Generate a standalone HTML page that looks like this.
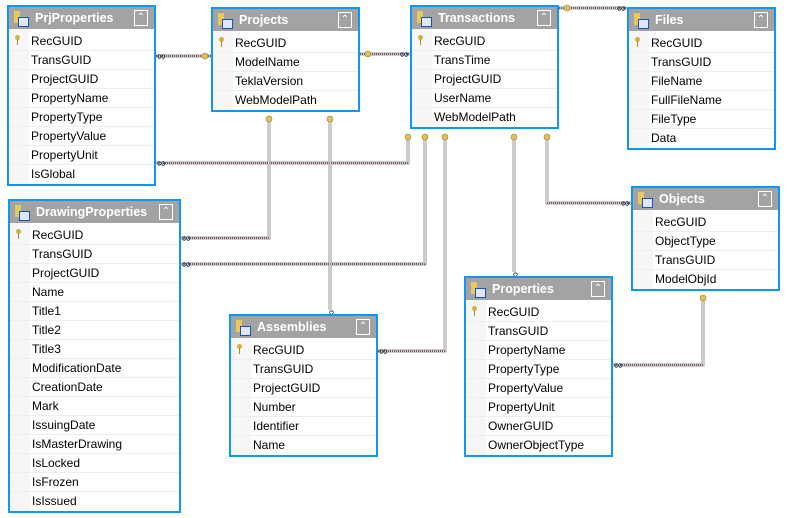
<!DOCTYPE html>
<html><head><meta charset="utf-8"><style>
body{margin:0;width:787px;height:518px;background:#fff;position:relative;overflow:hidden;font-family:"Liberation Sans",sans-serif;}
.t{position:absolute;border:2px solid #0f98f0;background:#fff;width:145px;box-sizing:content-box}
.h{height:22px;background:#a3a3a3;color:#fff;font-weight:bold;font-size:12.5px;line-height:22px;padding-left:26px;position:relative}
.h:before{content:"";position:absolute;left:5px;top:4px;width:6px;height:12px;background:#e8c860}
.h:after{content:"";position:absolute;left:9px;top:10px;width:9px;height:8px;border:1px solid #2050b0;background:#dde8ff}
.c{position:absolute;right:6px;top:3px;width:12px;height:14px;border:1px solid #fff;color:#fff;font-size:10px;line-height:14px;text-align:center;font-weight:normal}
.b{padding-top:3px;background:linear-gradient(to right,#f6f6f6 20px,#fff 20px)}
.r{height:19px;line-height:19px;font-size:12px;color:#000;padding-left:22px;border-bottom:1px solid #eee;box-sizing:border-box;margin-left:0;position:relative}
.r:last-child{border-bottom:none}
.k:before{content:"";position:absolute;left:6px;top:3px;width:5px;height:5px;border-radius:50%;background:#d8b040}
.k:after{content:"";position:absolute;left:8px;top:7px;width:1px;height:6px;background:#b08820}
svg{position:absolute;left:0;top:0}
</style></head><body>
<svg width="787" height="518">
<g fill="none">
<g stroke="#999" stroke-width="3">
<path d="M156 56H211M360 54H410M559 8H627M269 118V238H181M330 118V310M408 137V163H156M425 137V264H181M445 137V351H378M514 137V272M547 137V203H631M703 298V365H613"/>
</g>
<g stroke="#fff" stroke-width="1">
<path d="M156 56H211M360 54H410M559 8H627M269 118V238H181M330 118V310M408 137V163H156M425 137V264H181M445 137V351H378M514 137V272M547 137V203H631M703 298V365H613"/>
</g>
<g stroke="#602030" stroke-width="1" stroke-dasharray="1 1">
<path d="M156 56H211M360 54H410M559 8H627M269 238H181M408 163H156M425 264H181M445 351H378M547 203H631M703 365H613"/>
</g>
</g>
<g fill="#e0c060" stroke="#a08020" stroke-width="0.6">
<circle cx="205" cy="56" r="3"/><circle cx="368" cy="54" r="3"/><circle cx="567" cy="8" r="3"/>
<circle cx="269" cy="119" r="3"/><circle cx="330" cy="119" r="3"/>
<circle cx="408" cy="137" r="3"/><circle cx="425" cy="137" r="3"/><circle cx="445" cy="137" r="3"/><circle cx="514" cy="137" r="3"/><circle cx="547" cy="137" r="3"/>
<circle cx="703" cy="298" r="3"/>
</g>
<g font-family="Liberation Sans,sans-serif" font-size="12" fill="#203050">
<text x="157" y="60">∞</text><text x="400" y="58">∞</text><text x="617" y="12">∞</text>
<text x="182" y="242">∞</text><text x="157" y="167">∞</text><text x="182" y="268">∞</text><text x="379" y="355">∞</text>
<text x="621" y="207">∞</text><text x="614" y="369">∞</text>
<text x="334" y="308" transform="rotate(90 330 306)">∞</text>
<text x="518" y="270" transform="rotate(90 514 268)">∞</text>
</g>
</svg>

<div class="t" style="left:7px;top:5px"><div class="h">PrjProperties<span class="c">⌃</span></div><div class="b">
<div class="r k">RecGUID</div><div class="r">TransGUID</div><div class="r">ProjectGUID</div><div class="r">PropertyName</div><div class="r">PropertyType</div><div class="r">PropertyValue</div><div class="r">PropertyUnit</div><div class="r">IsGlobal</div></div></div>

<div class="t" style="left:211px;top:7px"><div class="h">Projects<span class="c">⌃</span></div><div class="b">
<div class="r k">RecGUID</div><div class="r">ModelName</div><div class="r">TeklaVersion</div><div class="r">WebModelPath</div></div></div>

<div class="t" style="left:410px;top:5px"><div class="h">Transactions<span class="c">⌃</span></div><div class="b">
<div class="r k">RecGUID</div><div class="r">TransTime</div><div class="r">ProjectGUID</div><div class="r">UserName</div><div class="r">WebModelPath</div></div></div>

<div class="t" style="left:627px;top:7px"><div class="h">Files<span class="c">⌃</span></div><div class="b">
<div class="r k">RecGUID</div><div class="r">TransGUID</div><div class="r">FileName</div><div class="r">FullFileName</div><div class="r">FileType</div><div class="r">Data</div></div></div>

<div class="t" style="left:8px;top:199px;width:169px"><div class="h">DrawingProperties<span class="c">⌃</span></div><div class="b">
<div class="r k">RecGUID</div><div class="r">TransGUID</div><div class="r">ProjectGUID</div><div class="r">Name</div><div class="r">Title1</div><div class="r">Title2</div><div class="r">Title3</div><div class="r">ModificationDate</div><div class="r">CreationDate</div><div class="r">Mark</div><div class="r">IssuingDate</div><div class="r">IsMasterDrawing</div><div class="r">IsLocked</div><div class="r">IsFrozen</div><div class="r">IsIssued</div></div></div>

<div class="t" style="left:631px;top:186px"><div class="h">Objects<span class="c">⌃</span></div><div class="b">
<div class="r">RecGUID</div><div class="r">ObjectType</div><div class="r">TransGUID</div><div class="r">ModelObjId</div></div></div>

<div class="t" style="left:229px;top:314px"><div class="h">Assemblies<span class="c">⌃</span></div><div class="b">
<div class="r k">RecGUID</div><div class="r">TransGUID</div><div class="r">ProjectGUID</div><div class="r">Number</div><div class="r">Identifier</div><div class="r">Name</div></div></div>

<div class="t" style="left:464px;top:276px"><div class="h">Properties<span class="c">⌃</span></div><div class="b">
<div class="r k">RecGUID</div><div class="r">TransGUID</div><div class="r">PropertyName</div><div class="r">PropertyType</div><div class="r">PropertyValue</div><div class="r">PropertyUnit</div><div class="r">OwnerGUID</div><div class="r">OwnerObjectType</div></div></div>
</body></html>
